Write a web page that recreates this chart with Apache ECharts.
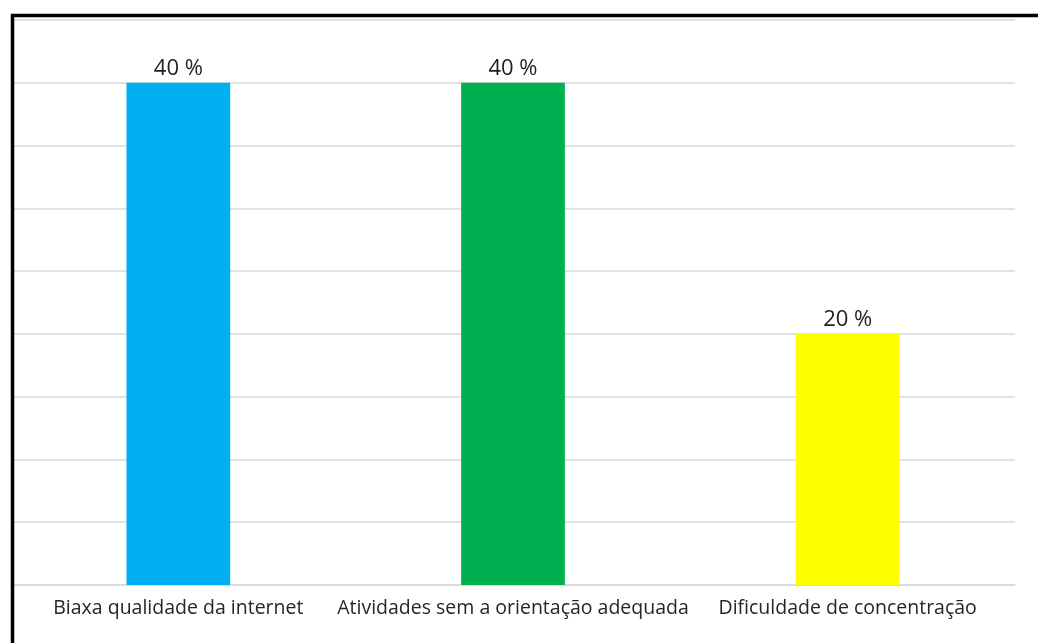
<!DOCTYPE html>
<html>
<head>
<meta charset="utf-8">
<script src="https://cdn.jsdelivr.net/npm/echarts@6/dist/echarts.min.js"></script>
<style>
  html, body { margin: 0; padding: 0; background: #fff; }
  #chart { width: 1038px; height: 643px; }
</style>
</head>
<body>
<div id="chart"></div>
<script>
var categories = ['Biaxa qualidade da internet', 'Atividades sem a orientação adequada', 'Dificuldade de concentração']
var values = [40, 40, 20]
var barColors = ['#00b0f0', '#00b050', '#ffff00']

var myChart = echarts.init(document.getElementById('chart'))

myChart.setOption({
  backgroundColor: '#fff',
  animation: false,
  grid: { left: 11, right: 23, top: 20, bottom: 58 },
  graphic: [{
    type: 'rect',
    shape: { x: 12.5, y: 15.5, width: 1100, height: 700 },
    style: { fill: 'none', stroke: '#000', lineWidth: 3.5 },
    z: 100
  }],
  xAxis: {
    type: 'category',
    data: categories,
    axisTick: { show: false },
    axisLine: { lineStyle: { color: '#d9d9d9', width: 1.5 } },
    axisLabel: { color: '#262626', fontSize: 19.5, fontFamily: 'Open Sans', margin: 13, interval: 0 }
  },
  yAxis: {
    type: 'value',
    min: 0,
    max: 45,
    interval: 5,
    axisLabel: { show: false },
    axisLine: { show: false },
    axisTick: { show: false },
    splitLine: { lineStyle: { color: '#d9d9d9', width: 1.5 } }
  },
  series: [{
    type: 'bar',
    barWidth: '31%',
    data: values.map(function (v, i) {
      return { value: v, itemStyle: { color: barColors[i] } }
    }),
    label: {
      show: true,
      position: 'top',
      distance: 3,
      formatter: '{c} %',
      color: '#1f1f1f',
      fontSize: 22,
      fontFamily: 'Open Sans'
    }
  }]
})
</script>
</body>
</html>
